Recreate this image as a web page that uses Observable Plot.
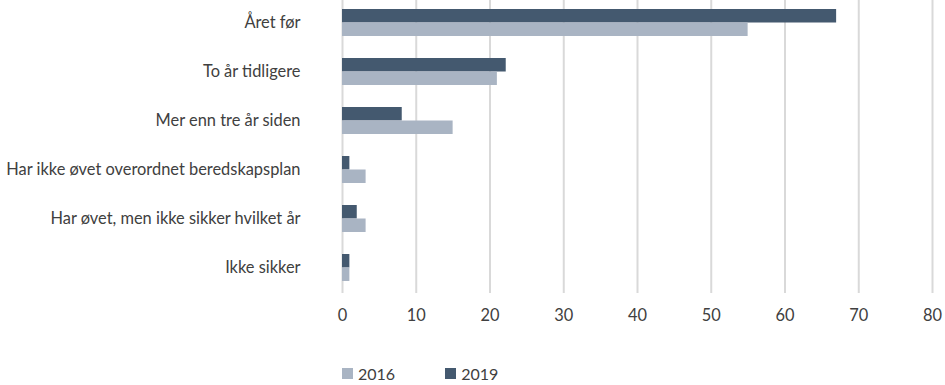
<!DOCTYPE html>
<html>
<head>
<meta charset="utf-8">
<script src="https://cdn.jsdelivr.net/npm/d3@7"></script>
<script src="https://cdn.jsdelivr.net/npm/@observablehq/plot@0.6"></script>
<style>
  body { margin: 0; background: #fff; font-family: Lato, "Open Sans", sans-serif; }
  #legend { display: flex; align-items: center; padding-left: 342px; margin-top: 18px; height: 20px; font-size: 16px; color: #404040; }
  .item { display: flex; align-items: center; margin-right: 50px; }
  .sw { width: 11px; height: 11px; margin-right: 5px; }
</style>
</head>
<body>
<div id="chart"></div>
<div id="legend"></div>
<script>
const categories = [
  "Året før",
  "To år tidligere",
  "Mer enn tre år siden",
  "Har ikke øvet overordnet beredskapsplan",
  "Har øvet, men ikke sikker hvilket år",
  "Ikke sikker"
];
const values2019 = [67, 22.2, 8.1, 1, 2, 1];
const values2016 = [55, 21, 15, 3.2, 3.2, 1];
const xTicks = [0, 10, 20, 30, 40, 50, 60, 70, 80];
const seriesNames = ["2016", "2019"];
const seriesColors = ["#a9b4c3", "#44596f"];

const d2019 = categories.map((c, i) => ({category: c, value: values2019[i]}));
const d2016 = categories.map((c, i) => ({category: c, value: values2016[i]}));

const plot = Plot.plot({
  width: 945,
  height: 345,
  marginLeft: 342,
  marginRight: 13,
  marginTop: 0,
  marginBottom: 56,
  style: {fontFamily: "Lato, 'Open Sans', sans-serif", fontSize: "16.4px", color: "#404040", background: "#fff"},
  x: {domain: [0, 80], ticks: xTicks, tickSize: 0, tickPadding: 20, label: null},
  y: {domain: categories, paddingInner: 0.45, paddingOuter: 0.16, tickSize: 0, tickPadding: 42, label: null},
  marks: [
    Plot.ruleX(xTicks, {stroke: "#d9d9d9", strokeWidth: 2, insetBottom: -4}),
    Plot.barX(d2019, {x: "value", y: "category", fill: seriesColors[1], insetBottom: 13.5, insetTop: 0}),
    Plot.barX(d2016, {x: "value", y: "category", fill: seriesColors[0], insetTop: 13.5, insetBottom: 0})
  ]
});
document.getElementById("chart").appendChild(plot);

const legend = document.getElementById("legend");
seriesNames.forEach((name, i) => {
  const it = document.createElement("div");
  it.className = "item";
  it.innerHTML = `<span class="sw" style="background:${seriesColors[i]}"></span><span>${name}</span>`;
  legend.appendChild(it);
});
</script>
</body>
</html>
